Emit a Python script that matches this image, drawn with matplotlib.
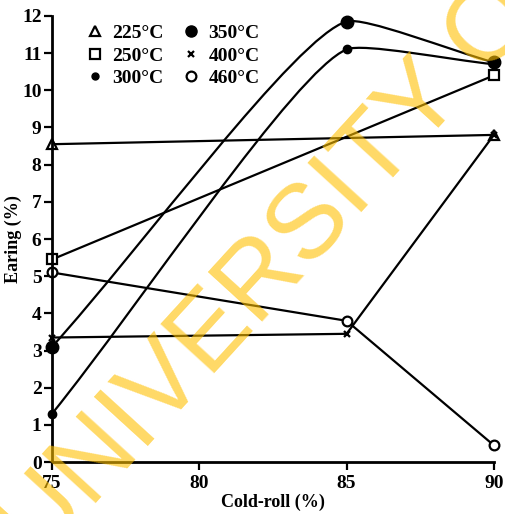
import numpy as np
import matplotlib.pyplot as plt
from matplotlib.path import Path
from matplotlib.patches import PathPatch
from matplotlib.lines import Line2D

# data
x_225 = [75, 90]
y_225 = [8.55, 8.8]
x_250 = [75, 90]
y_250 = [5.45, 10.4]
x_300 = [75, 85, 90]
y_300 = [1.3, 11.1, 10.7]
x_350 = [75, 85, 90]
y_350 = [3.1, 11.85, 10.75]
x_400 = [75, 85, 90]
y_400 = [3.35, 3.45, 8.8]
x_460 = [75, 85, 90]
y_460 = [5.1, 3.8, 0.45]

xticks = [75, 80, 85, 90]
yticks = list(range(0, 13))
labels = ['225°C', '250°C', '300°C', '350°C', '400°C', '460°C']

plt.rcParams['font.family'] = ['Liberation Serif', 'DejaVu Serif']
plt.rcParams['font.weight'] = 'bold'

fig = plt.figure(figsize=(5.05, 5.14), dpi=100)
ax = fig.add_axes([0.103, 0.101, 0.875, 0.868])
ax.set_xlim(75, 90)
ax.set_ylim(0, 12)

lw = 1.6


def smooth(ax, xs, ys, f=0.12):
    # bezier through the points, short handles -> rounded corners
    fig.canvas.draw()
    pts = ax.transData.transform(np.column_stack([xs, ys]))
    n = len(pts)
    verts = [pts[0]]
    codes = [Path.MOVETO]
    tang = []
    for i in range(n):
        if i == 0:
            t = pts[1] - pts[0]
        elif i == n - 1:
            t = pts[-1] - pts[-2]
        else:
            a = pts[i] - pts[i - 1]
            b = pts[i + 1] - pts[i]
            t = a / np.hypot(*a) + b / np.hypot(*b)
        tang.append(t / np.hypot(*t))
    for i in range(n - 1):
        L = np.hypot(*(pts[i + 1] - pts[i]))
        verts += [pts[i] + tang[i] * L * f * (2.5 if i == 0 else 1),
                  pts[i + 1] - tang[i + 1] * L * f * (2.5 if i + 1 == n - 1 else 1),
                  pts[i + 1]]
        codes += [Path.CURVE4] * 3
    verts = ax.transData.inverted().transform(np.array(verts))
    ax.add_patch(PathPatch(Path(verts, codes), fill=False, lw=lw, color='k',
                           capstyle='round', joinstyle='round', clip_on=False))


ax.plot(x_225, y_225, color='k', lw=lw, marker='^', ms=7, mfc='white', mew=1.6, clip_on=False)
ax.plot(x_250, y_250, color='k', lw=lw, marker='s', ms=7, mfc='white', mew=1.6, clip_on=False)
smooth(ax, x_300, y_300)
ax.plot(x_300, y_300, ls='none', color='k', marker='o', ms=6, clip_on=False)
smooth(ax, x_350, y_350)
ax.plot(x_350, y_350, ls='none', color='k', marker='o', ms=9, clip_on=False)
ax.plot(x_400, y_400, color='k', lw=lw, marker='x', ms=5, mew=1.6, clip_on=False)
ax.plot(x_460, y_460, color='k', lw=lw, marker='o', ms=7, mfc='white', mew=1.6, clip_on=False)

ax.set_xticks(xticks)
ax.set_yticks(yticks)
ax.tick_params(direction='out', length=6, width=1.6, labelsize=14)
ax.tick_params(axis='y', pad=1.5)
for s in ['top', 'right']:
    ax.spines[s].set_visible(False)
for s in ['left', 'bottom']:
    ax.spines[s].set_linewidth(2)
ax.set_xlabel('Cold-roll (%)', fontsize=13, fontweight='bold', labelpad=1)
ax.set_ylabel('Earing (%)', fontsize=13, fontweight='bold', labelpad=0)

handles = [
    Line2D([], [], ls='none', color='k', marker='^', ms=7, mfc='white', mew=1.6),
    Line2D([], [], ls='none', color='k', marker='s', ms=7, mfc='white', mew=1.6),
    Line2D([], [], ls='none', color='k', marker='o', ms=5),
    Line2D([], [], ls='none', color='k', marker='o', ms=8),
    Line2D([], [], ls='none', color='k', marker='x', ms=5, mew=1.6),
    Line2D([], [], ls='none', color='k', marker='o', ms=7, mfc='white', mew=1.6),
]
ax.legend(handles, labels, ncol=2, frameon=False, loc='upper left',
          bbox_to_anchor=(0.04, 1.02), handlelength=0.8,
          handletextpad=0.5, columnspacing=1.0, labelspacing=0.25,
          prop={'family': 'Liberation Serif', 'size': 14, 'weight': 'bold'})

fig.text(0.077, -0.10, 'UNIVERSITY OF', fontsize=76, color='#FFC000', alpha=0.6,
         family='Liberation Sans', fontweight='normal', rotation=47.6,
         rotation_mode='anchor', ha='left', va='baseline')

fig.savefig('out.png', dpi=100)
